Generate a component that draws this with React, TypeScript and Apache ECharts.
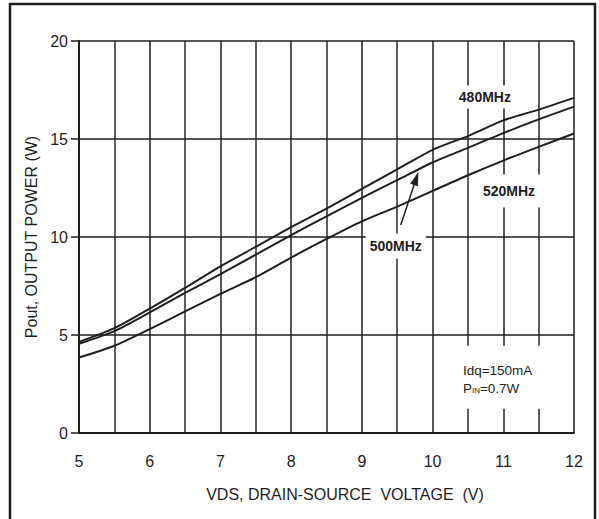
import React, { useEffect, useRef } from "react";
import * as echarts from "echarts";

const voltages = [5, 5.5, 6, 6.5, 7, 7.5, 8, 8.5, 9, 9.5, 10, 10.5, 11, 11.5, 12];
const p480 = [4.65, 5.35, 6.35, 7.4, 8.5, 9.5, 10.5, 11.45, 12.45, 13.45, 14.45, 15.15, 15.95, 16.5, 17.1];
const p500 = [4.55, 5.2, 6.15, 7.15, 8.1, 9.1, 10.1, 11.05, 12.0, 12.9, 13.8, 14.55, 15.3, 16.0, 16.65];
const p520 = [3.85, 4.45, 5.3, 6.2, 7.1, 7.95, 8.95, 9.9, 10.8, 11.55, 12.35, 13.15, 13.9, 14.6, 15.28];

const xTicks = [5, 6, 7, 8, 9, 10, 11, 12];
const yTicks = [0, 5, 10, 15, 20];

const labels480 = { text: "480MHz", x: 10.74, y: 17.14 };
const labels500 = { text: "500MHz", x: 9.48, y: 9.54 };
const labels520 = { text: "520MHz", x: 11.08, y: 12.35 };
const arrowTail = [9.55, 10.61];
const arrowTip = [9.8, 13.33];
const noteLine1 = "Idq=150mA";
const noteLine2 = ["P", "IN", "=0.7W"];
const noteAnchor = [10.5, 2.87];

const FONT = "'Liberation Sans', Arial, Helvetica, sans-serif";
const INK = "#1e1e1e";

export default function App() {
  const ref = useRef<HTMLDivElement>(null);

  useEffect(() => {
    if (!ref.current) return;
    const chart = echarts.init(ref.current, undefined, { renderer: "svg" });

    const mk = (arr: number[]) => voltages.map((v, i) => [v, arr[i]]);
    const lineSeries = (name: string, arr: number[]) => ({
      name,
      type: "line",
      data: mk(arr),
      symbol: "none",
      smooth: 0.25,
      z: 5,
      lineStyle: { color: INK, width: 2 },
    });

    chart.setOption({
      animation: false,
      backgroundColor: "#fff",
      textStyle: { fontFamily: FONT },
      grid: { left: 79, top: 41, right: 25, bottom: 86, containLabel: false },
      xAxis: {
        type: "value",
        min: 5,
        max: 12,
        interval: 1,
        name: "VDS, DRAIN-SOURCE  VOLTAGE  (V)",
        nameLocation: "middle",
        nameGap: 53,
        nameTextStyle: { fontSize: 16, color: INK, fontFamily: FONT, padding: [0, 0, 0, 37] },
        axisLine: { show: true, onZero: false, lineStyle: { color: INK, width: 2 } },
        axisTick: { show: false },
        minorTick: { show: false, splitNumber: 2 },
        minorSplitLine: { show: true, lineStyle: { color: "#2a2a2a", width: 1.5 } },
        splitLine: { show: true, lineStyle: { color: INK, width: 1.5 } },
        axisLabel: {
          margin: 20,
          fontSize: 16,
          color: INK,
          fontFamily: FONT,
          formatter: (v: number) => (xTicks.includes(v) ? String(v) : ""),
        },
      },
      yAxis: {
        type: "value",
        min: 0,
        max: 20,
        interval: 5,
        name: "Pout, OUTPUT POWER (W)",
        nameLocation: "middle",
        nameGap: 40,
        nameTextStyle: { fontSize: 16, color: INK, fontFamily: FONT },
        axisLine: { show: true, onZero: false, lineStyle: { color: INK, width: 2 } },
        axisTick: { show: true, length: 8, lineStyle: { color: INK, width: 1.5 } },
        splitLine: { show: true, lineStyle: { color: INK, width: 1.5 } },
        axisLabel: {
          margin: 11,
          fontSize: 16,
          color: INK,
          fontFamily: FONT,
          formatter: (v: number) => (yTicks.includes(v) ? String(v) : ""),
        },
      },
      series: [lineSeries("480MHz", p480), lineSeries("500MHz", p500), lineSeries("520MHz", p520)],
    });

    const px = (p: number[]) => chart.convertToPixel({ gridIndex: 0 }, p) as number[];

    const boxLabel = (lab: { text: string; x: number; y: number }, w: number, h: number) => {
      const c = px([lab.x, lab.y]);
      return [
        {
          type: "rect",
          z: 3,
          shape: { x: c[0] - w / 2, y: c[1] - h / 2, width: w, height: h },
          style: { fill: "#fff" },
        },
        {
          type: "text",
          z: 4,
          x: c[0],
          y: c[1],
          style: {
            text: lab.text,
            fill: INK,
            font: `bold 14px ${FONT}`,
            align: "center",
            verticalAlign: "middle",
          },
        },
      ];
    };

    const t = px(arrowTail);
    const tip = px(arrowTip);
    const dx = tip[0] - t[0];
    const dy = tip[1] - t[1];
    const len = Math.hypot(dx, dy);
    const ux = dx / len;
    const uy = dy / len;
    const headL = 14;
    const headW = 4;
    const bx = tip[0] - ux * headL;
    const by = tip[1] - uy * headL;

    const na = px(noteAnchor);

    chart.setOption({
      graphic: [
        {
          type: "rect",
          z: -10,
          silent: true,
          shape: { x: 10, y: 4, width: 585, height: 540 },
          style: { fill: "none", stroke: INK, lineWidth: 2.5 },
        },
        ...boxLabel(labels480, 60, 23),
        ...boxLabel(labels520, 64, 33),
        ...boxLabel(labels500, 60, 25),
        {
          type: "line",
          z: 6,
          shape: { x1: t[0], y1: t[1], x2: bx, y2: by },
          style: { stroke: INK, lineWidth: 1.5 },
        },
        {
          type: "polygon",
          z: 6,
          shape: {
            points: [
              [tip[0], tip[1]],
              [bx - uy * headW, by + ux * headW],
              [bx + uy * headW, by - ux * headW],
            ],
          },
          style: { fill: INK },
        },
        {
          type: "rect",
          z: 3,
          shape: { x: na[0] - 12, y: na[1] - 31, width: 88, height: 63 },
          style: { fill: "#fff" },
        },
        {
          type: "text",
          z: 4,
          x: na[0] - 5,
          y: na[1] - 6,
          style: {
            text: noteLine1,
            fill: INK,
            font: `13.5px ${FONT}`,
            align: "left",
            verticalAlign: "middle",
          },
        },
        {
          type: "text",
          z: 4,
          x: na[0] - 5,
          y: na[1] + 12,
          style: {
            text: `{a|${noteLine2[0]}}{b|${noteLine2[1]}}{a|${noteLine2[2]}}`,
            fill: INK,
            align: "left",
            verticalAlign: "middle",
            rich: {
              a: { fontSize: 13.5, fontFamily: FONT, fill: INK, verticalAlign: "middle" },
              b: { fontSize: 8, fontFamily: FONT, fill: INK, verticalAlign: "middle", padding: [3, 0, 0, 0] },
            },
          },
        },
      ],
    });

    return () => chart.dispose();
  }, []);

  return (
    <div
      ref={ref}
      style={{ position: "fixed", left: 0, top: 0, width: 599, height: 519, background: "#fff" }}
    />
  );
}
